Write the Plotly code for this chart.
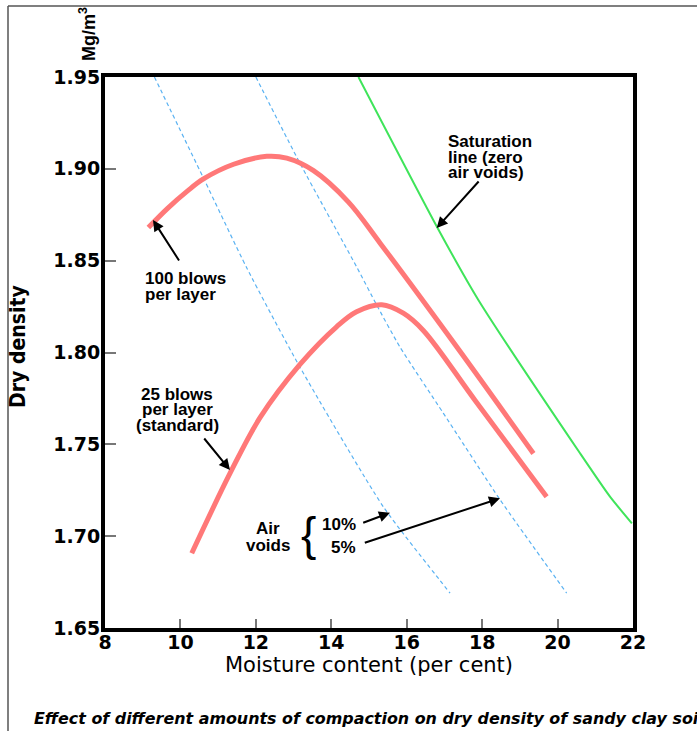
import plotly.graph_objects as go

# ---------------- data ----------------
moisture_100 = [9.15, 9.66, 10.19, 10.61, 11.41, 12.29, 12.82, 13.53, 14.45, 15.30, 17.33, 19.36]
density_100 = [1.868, 1.8785, 1.888, 1.8945, 1.9025, 1.9068, 1.9058, 1.899, 1.882, 1.8594, 1.803, 1.745]

moisture_25 = [10.30, 11.31, 12.11, 13.17, 14.14, 14.67, 15.34, 15.91, 16.44, 17.81, 19.71]
density_25 = [1.6907, 1.734, 1.7645, 1.7935, 1.814, 1.8222, 1.826, 1.8214, 1.812, 1.774, 1.7215]

moisture_sat = [14.72, 16.80, 17.90, 20.60, 21.39, 21.97]
density_sat = [1.95, 1.8685, 1.8286, 1.745, 1.7215, 1.707]

moisture_av10 = [9.31, 10.61, 11.76, 13.17, 15.38, 16.88, 17.15]
density_av10 = [1.95, 1.895, 1.846, 1.792, 1.716, 1.676, 1.669]

moisture_av5 = [12.00, 13.17, 14.67, 15.20, 15.82, 16.97, 18.47, 20.24]
density_av5 = [1.95, 1.903, 1.8467, 1.826, 1.803, 1.767, 1.72, 1.669]

x_ticks = [8, 10, 12, 14, 16, 18, 20, 22]
y_ticks = [1.65, 1.70, 1.75, 1.80, 1.85, 1.90, 1.95]
y_tick_text = ["1.65", "1.70", "1.75", "1.80", "1.85", "1.90", "1.95"]

# ---------------- layout helpers ----------------
W, H = 697, 731
L, R, T, B = 105, 64, 77, 103
X0, X1, Y0, Y1 = 8, 22, 1.65, 1.95
PW, PH = W - L - R, H - T - B


def dx(px):
    return X0 + (px - L) / PW * (X1 - X0)


def dy(py):
    return Y1 - (py - T) / PH * (Y1 - Y0)


def pxp(px):
    return (px - L) / PW


def pyp(py):
    return (H - B - py) / PH


FONT = "DejaVu Sans"
LFONT = "Liberation Sans"
RED = "#FF7878"
GREEN = "#3FE45A"
BLUE = "#5AB2F2"

fig = go.Figure()

for xs, ys in [(moisture_av10, density_av10), (moisture_av5, density_av5)]:
    fig.add_trace(go.Scatter(x=xs, y=ys, mode="lines",
                             line=dict(color=BLUE, width=1.2, dash="4px,3px", shape="spline", smoothing=0.6),
                             hoverinfo="skip"))

fig.add_trace(go.Scatter(x=moisture_sat, y=density_sat, mode="lines",
                         line=dict(color=GREEN, width=2, shape="spline", smoothing=0.6)))
fig.add_trace(go.Scatter(x=moisture_100, y=density_100, mode="lines",
                         line=dict(color=RED, width=5, shape="spline", smoothing=1.0)))
fig.add_trace(go.Scatter(x=moisture_25, y=density_25, mode="lines",
                         line=dict(color=RED, width=5, shape="spline", smoothing=1.0)))

annotations = []


def text(t, px, py, size=17, xanchor="left", bold=True, italic=False, family=LFONT, angle=0):
    if bold:
        t = "<b>" + t + "</b>"
    if italic:
        t = "<i>" + t + "</i>"
    annotations.append(dict(text=t, x=pxp(px), y=pyp(py), xref="paper", yref="paper",
                            xanchor=xanchor, yanchor="middle", showarrow=False, textangle=angle,
                            font=dict(family=family, size=size, color="black")))


def arrow(head, tail):
    annotations.append(dict(text="", x=dx(head[0]), y=dy(head[1]), xref="x", yref="y",
                            ax=tail[0] - head[0], ay=tail[1] - head[1], showarrow=True,
                            arrowhead=2, arrowsize=1.1, arrowwidth=2, arrowcolor="black"))


# Saturation label
for t, yy in [("Saturation", 141.7), ("line (zero", 157.3), ("air voids)", 172.7)]:
    text(t, 446, yy)
arrow((436.7, 228.0), (480.0, 180.0))

# 100 blows
for t, yy in [("100 blows", 278.3), ("per layer", 294.5)]:
    text(t, 143, yy)
arrow((153.0, 220.0), (180.0, 262.0))

# 25 blows
for t, yy in [("25 blows", 394.0), ("per layer", 410.0), ("(standard)", 425.5)]:
    text(t, 177, yy, xanchor="center")
arrow((230.0, 470.0), (203.0, 437.0))

# Air voids
text("Air", 268, 528, xanchor="center")
text("voids", 268, 545.5, xanchor="center")
text("{", 308, 534, size=46, xanchor="center", bold=False)
text("10%", 358, 524, xanchor="right")
text("5%", 358, 547.5, xanchor="right")
arrow((390.0, 512.7), (361.7, 523.3))
arrow((500.0, 498.3), (363.3, 543.3))

# axis labels outside the plot
text("Dry density", 18, 347, size=21, xanchor="center", family="DejaVu Sans Condensed, Liberation Sans", angle=-90)
text("Mg/m<sup>3</sup>", 88, 34, size=18, xanchor="center", angle=-90)

# caption
text("Effect of different amounts of compaction on dry density of sandy clay soil", 32, 718,
     size=15.9, italic=True, family=FONT)

shapes = [
    dict(type="line", xref="paper", yref="paper", x0=pxp(8), x1=pxp(8), y0=pyp(740), y1=pyp(6),
         line=dict(color="#555555", width=1.5)),
    dict(type="line", xref="paper", yref="paper", x0=pxp(8), x1=pxp(710), y0=pyp(6), y1=pyp(6),
         line=dict(color="#555555", width=1.5)),
]

fig.update_layout(
    width=W, height=H,
    margin=dict(l=L, r=R, t=T, b=B),
    paper_bgcolor="white", plot_bgcolor="white",
    showlegend=False,
    annotations=annotations,
    shapes=shapes,
    xaxis=dict(range=[X0, X1], tickvals=x_ticks, ticks="inside", ticklen=9, tickwidth=1.5, tickcolor="#777777",
               showline=True, linecolor="black", linewidth=4, mirror=True, showgrid=False, zeroline=False,
               ticklabelstandoff=-6,
               tickfont=dict(family=FONT, size=19, color="black", weight="bold"),
               title=dict(text="Moisture content (per cent)", font=dict(family=FONT, size=21, color="black"),
                          standoff=4)),
    yaxis=dict(range=[Y0, Y1], tickvals=y_ticks, ticktext=y_tick_text, ticks="inside", ticklen=11, tickwidth=1.5,
               tickcolor="#777777", showline=True, linecolor="black", linewidth=4, mirror=True, showgrid=False,
               zeroline=False, ticklabelstandoff=-3,
               tickfont=dict(family=FONT, size=19, color="black", weight="bold")),
)

fig.write_html("out.html")
